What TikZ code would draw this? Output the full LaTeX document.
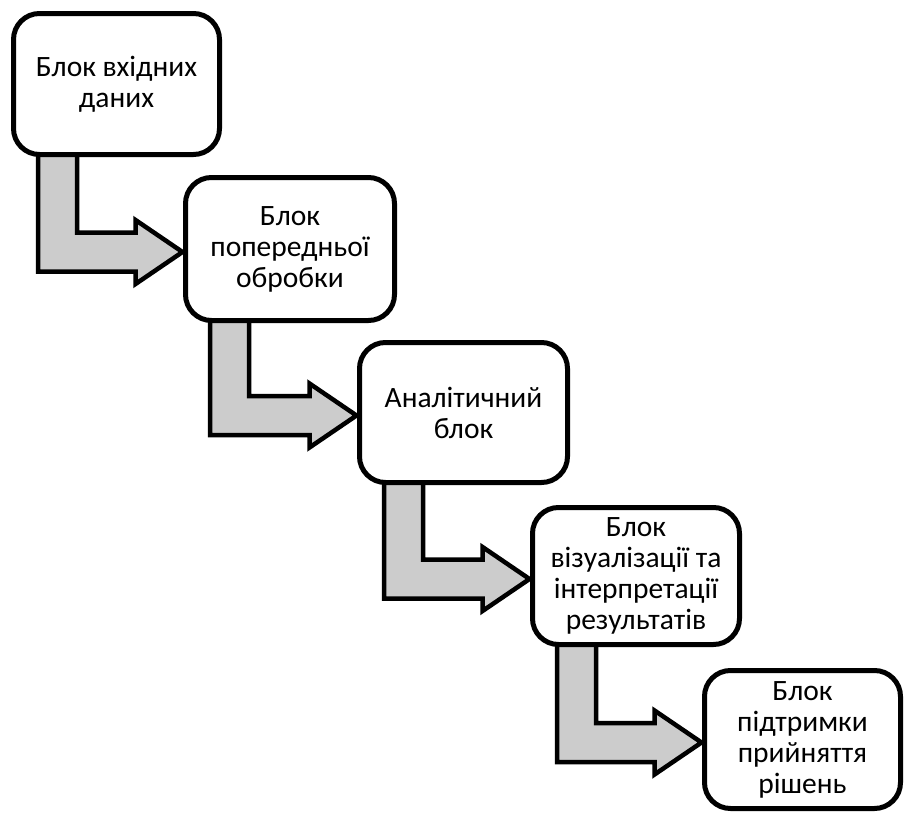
\documentclass[tikz,border=0pt]{standalone}
\usepackage{fontspec}
\setmainfont{Carlito}
\usetikzlibrary{calc,backgrounds}
\tikzset{
  blockbox/.style={draw=black, line width=5pt, rounded corners=26pt, fill=white,
    align=center, outer sep=0pt, inner sep=0pt,
    font=\fontsize{29.5}{31}\selectfont},
  bentarrow/.style={draw=black, line width=4.5pt, fill=black!20, line join=miter, miter limit=10}
}
\newcommand{\bentconnect}[2]{%
  \draw[bentarrow] let \p1=(#1.south west), \p2=(#2.west) in
    (\x1+24.5pt,\y1) -- (\x1+24.5pt,\y2-22.5pt) -- (\x2-50pt,\y2-22.5pt) --
    (\x2-50pt,\y2-35pt) -- (\x2-3pt,\y2-3pt) -- (\x2-50pt,\y2+29pt) --
    (\x2-50pt,\y2+16.5pt) -- (\x1+63.5pt,\y2+16.5pt) -- (\x1+63.5pt,\y1) -- cycle;}
\begin{document}
\begin{tikzpicture}[x=1pt,y=-1pt]
  \useasboundingbox (0,0) rectangle (906,814);
  \node[blockbox, minimum width=206pt, minimum height=141pt] (b1) at (116.5,84) {Блок вхідних\\даних};
  \node[blockbox, minimum width=209pt, minimum height=143pt] (b2) at (290,249) {Блок\\попередньої\\обробки};
  \node[blockbox, minimum width=208pt, minimum height=140pt] (b3) at (463.5,412.5) {Аналітичний\\блок};
  \node[blockbox, minimum width=207pt, minimum height=137pt] (b4) at (636,576) {Блок\\візуалізації та\\інтерпретації\\результатів};
  \node[blockbox, minimum width=196pt, minimum height=138pt] (b5) at (802.5,739.5) {Блок\\підтримки\\прийняття\\рішень};
  \begin{scope}[on background layer]
    \bentconnect{b1}{b2}
    \bentconnect{b2}{b3}
    \bentconnect{b3}{b4}
    \bentconnect{b4}{b5}
  \end{scope}
\end{tikzpicture}
\end{document}
